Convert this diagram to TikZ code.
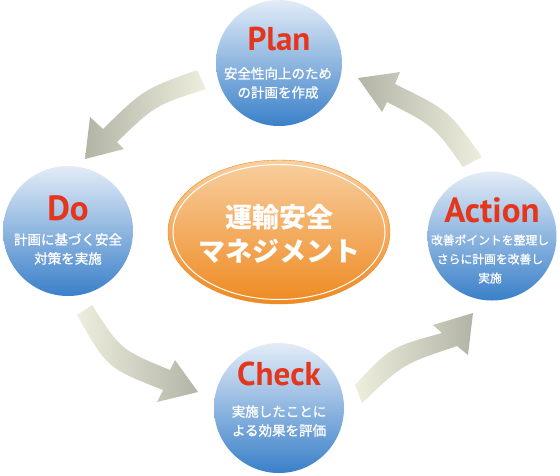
\documentclass[tikz,border=0pt]{standalone}
\usepackage{fontspec}
\setsansfont{PT Sans}
\newfontfamily\jpfont{Noto Sans CJK JP}
\newfontfamily\jpmfont{Noto Sans CJK JP}[FakeBold=1.2]
\usetikzlibrary{positioning, shapes.geometric}
\definecolor{lblred}{HTML}{E4361C}
\definecolor{circtop}{HTML}{E3ECF7}
\definecolor{circbot}{HTML}{3A80C9}
\definecolor{coretop}{HTML}{F8CFA0}
\definecolor{corebot}{HTML}{EE8A22}
\definecolor{coreedge}{HTML}{EC8A1E}
\definecolor{arrowlite}{HTML}{EEEEDE}
\definecolor{arrowdark}{HTML}{B2B4A5}
\tikzset{
  cyccirc/.style  = {circle, minimum size=128pt, inner sep=0pt,
                     top color=circtop, bottom color=circbot},
  cyclbl/.style   = {font=\sffamily\bfseries\fontsize{33}{33}\selectfont,
                     text=lblred, inner sep=0pt, anchor=base},
  cyctxt/.style   = {font=\jpmfont\fontsize{13.5}{19}\selectfont,
                     text=white, align=center, inner sep=0pt},
  cyccore/.style  = {ellipse, draw=coreedge, inner sep=0pt,
                     top color=coretop, bottom color=corebot},
  coretxt/.style  = {font=\jpfont\bfseries\fontsize{27}{34}\selectfont,
                     text=white, align=center, inner sep=0pt},
  arrowtoL/.style = {left color=arrowdark, right color=arrowlite},
  arrowtoR/.style = {left color=arrowlite, right color=arrowdark}
}
\begin{document}
\begin{tikzpicture}[x=1pt, y=-1pt]
  \useasboundingbox (0,0) rectangle (560,475);

  % cycle arrows
  \shade[arrowtoL] (197,70) .. controls (143.6,89.3) .. (103,129) -- (90,117)
        -- (85,159) -- (124,149) -- (117,142) .. controls (155.1,105.3) .. (206,89) -- cycle;
  \shade[arrowtoR] (92,305) .. controls (120.7,349.7) .. (170,370) -- (175,360)
        -- (198,392) -- (157,402) -- (163,390) .. controls (107,368) .. (77,315) -- cycle;
  \shade[arrowtoR] (355,385) .. controls (390.4,347.2) .. (442,333) -- (433,325)
        -- (473,313) -- (468,355) -- (457,346) .. controls (402.9,364.1) .. (362,403) -- cycle;
  \shade[arrowtoL] (482,157) .. controls (448.2,110) .. (395,84) -- (400,72)
        -- (358,78) -- (382,112) -- (387,102) .. controls (434.1,126) .. (463,167) -- cycle;

  \node[cyccirc, minimum size=126pt] (plan)   at (279,63)  {};
  \node[cyccirc, minimum size=130pt] (do)     at (68,231)  {};
  \node[cyccirc, minimum size=129pt] (action) at (492,236) {};
  \node[cyccirc, minimum size=130pt] (check)  at (279,408) {};

  \node[cyclbl] (planlbl)   at (279,50)  {Plan};
  \node[cyclbl, font=\sffamily\bfseries\fontsize{35}{35}\selectfont] (dolbl)     at (68,220)  {Do};
  \node[cyclbl, font=\sffamily\bfseries\fontsize{35}{35}\selectfont] (actionlbl) at (492,222) {Action};
  \node[cyclbl] (checklbl)  at (279,385) {Check};

  \node[cyctxt] (plantxt)   at (278,83)  {安全性向上のため\\の計画を作成};
  \node[cyctxt] (dotxt)     at (68,249)  {計画に基づく安全\\対策を実施};
  \node[cyctxt, font=\jpmfont\fontsize{11.8}{19}\selectfont] (actiontxt) at (490,259) {改善ポイントを整理し\\さらに計画を改善し\\実施};
  \node[cyctxt] (checktxt)  at (279,421) {実施したことに\\よる効果を評価};

  \node[cyccore, minimum width=222pt, minimum height=144pt] (core) at (279,232) {};
  \draw[white, line width=1pt] (core.center) ellipse [x radius=106pt, y radius=67.5pt];
  \node[coretxt] (coretitle) at (279,234) {運輸安全\\マネジメント};
\end{tikzpicture}
\end{document}
